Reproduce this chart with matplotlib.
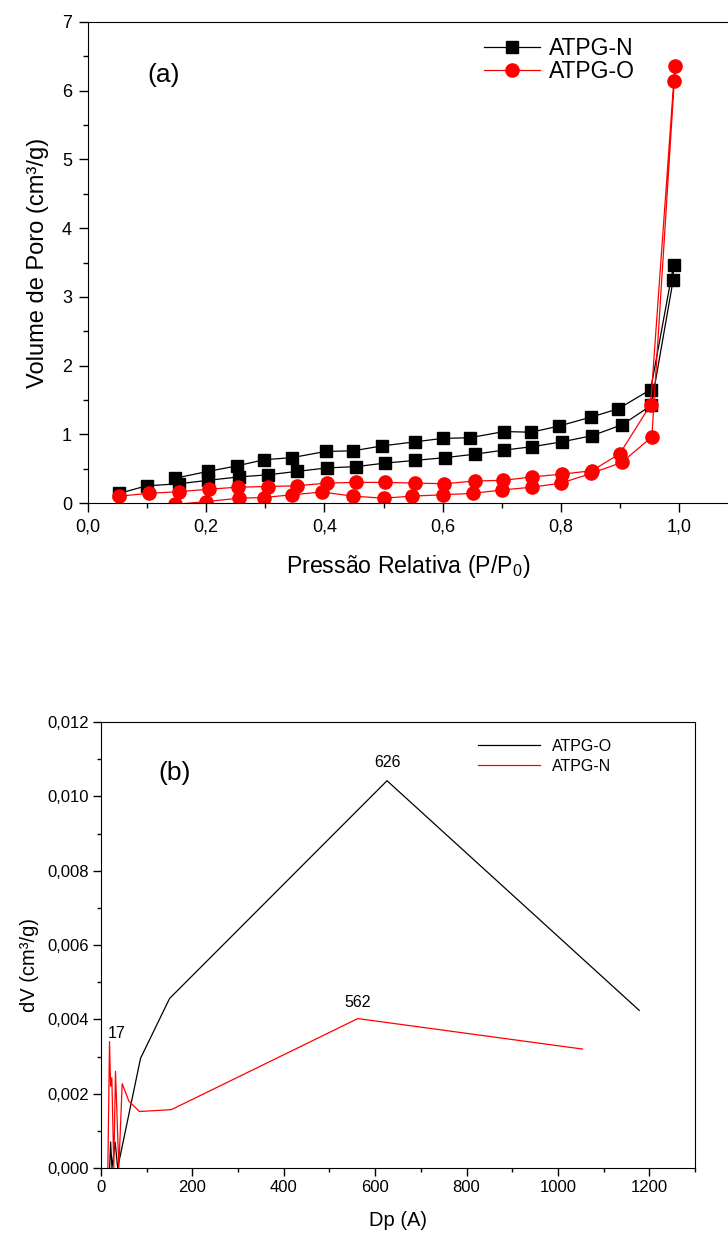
import numpy as np
import matplotlib
matplotlib.use('Agg')
import matplotlib.pyplot as plt
from matplotlib.ticker import MultipleLocator, FuncFormatter

plt.rcParams['font.family'] = ['Liberation Sans', 'DejaVu Sans']
plt.rcParams['mathtext.fontset'] = 'custom'
plt.rcParams['mathtext.rm'] = 'Liberation Sans'
plt.rcParams['mathtext.it'] = 'Liberation Sans:italic'

# (a) isotermas - ATPG-N (adsorcao / dessorcao)
pn_ads = [0.053, 0.099, 0.154, 0.203, 0.256, 0.304, 0.354, 0.404, 0.454, 0.502,
          0.553, 0.604, 0.654, 0.704, 0.752, 0.802, 0.853, 0.904, 0.953, 0.990]
vn_ads = [0.14, 0.25, 0.28, 0.33, 0.38, 0.41, 0.46, 0.51, 0.53, 0.58,
          0.62, 0.66, 0.71, 0.77, 0.82, 0.89, 0.98, 1.14, 1.42, 3.24]
pn_des = [0.991, 0.952, 0.897, 0.851, 0.797, 0.750, 0.704, 0.646, 0.600, 0.553,
          0.497, 0.449, 0.402, 0.345, 0.298, 0.252, 0.203, 0.147]
vn_des = [3.47, 1.65, 1.37, 1.25, 1.12, 1.03, 1.04, 0.95, 0.94, 0.89,
          0.83, 0.76, 0.75, 0.66, 0.63, 0.54, 0.46, 0.36]

# ATPG-O
po_ads = [0.053, 0.103, 0.154, 0.204, 0.253, 0.304, 0.353, 0.404, 0.453, 0.502,
          0.553, 0.603, 0.654, 0.703, 0.752, 0.802, 0.853, 0.900, 0.952, 0.993]
vo_ads = [0.10, 0.14, 0.165, 0.20, 0.23, 0.24, 0.25, 0.29, 0.30, 0.30,
          0.29, 0.28, 0.32, 0.33, 0.38, 0.42, 0.47, 0.72, 1.43, 6.36]
po_des = [0.992, 0.954, 0.903, 0.851, 0.801, 0.751, 0.701, 0.651, 0.601, 0.549,
          0.500, 0.448, 0.396, 0.346, 0.297, 0.256, 0.200, 0.147]
vo_des = [6.14, 0.96, 0.59, 0.43, 0.29, 0.23, 0.19, 0.14, 0.12, 0.10,
          0.07, 0.10, 0.16, 0.12, 0.08, 0.07, 0.02, -0.02]

# (b) distribuicao de poros
dp_o = [19, 21, 24, 31, 36.5, 86.5, 150, 626, 1178]
dv_o = [0, 0.0007, 0, 0.00069, 0, 0.00295, 0.00456, 0.01042, 0.00424]
dp_n = [15, 18.6, 21, 23.7, 28, 31.7, 39, 46.4, 61, 84, 154, 562, 1054]
dv_n = [0, 0.0034, 0.0022, 0.00243, 0, 0.0026, 0, 0.00227, 0.0018, 0.00152,
        0.00157, 0.00402, 0.00320]

W, H = 728, 1235
fig = plt.figure(figsize=(W/100, H/100), dpi=100)

def virg(fmt):
    return FuncFormatter(lambda v, p: (fmt % v).replace('.', ','))

# ---------- painel (a)
ax = fig.add_axes([88/W, 1-503/H, (728-88)/W, (503-22)/H])
x = pn_ads + pn_des
y = vn_ads + vn_des
ax.plot(x, y, color='black', lw=0.9, marker='s', ms=9, label='ATPG-N')
x = po_ads + po_des
y = vo_ads + vo_des
ax.plot(x, y, color='#ff0000', lw=0.9, marker='o', ms=9.5, label='ATPG-O')
ax.set_xlim(0, (728-88)/591)
ax.set_ylim(0, 7)
ax.spines['right'].set_visible(False)
ax.xaxis.set_major_locator(MultipleLocator(0.2))
ax.xaxis.set_minor_locator(MultipleLocator(0.1))
ax.yaxis.set_major_locator(MultipleLocator(1))
ax.yaxis.set_minor_locator(MultipleLocator(0.5))
ax.xaxis.set_major_formatter(virg('%.1f'))
ax.tick_params(which='major', direction='out', length=6.5, width=1, labelsize=13, pad=5)
ax.tick_params(which='minor', direction='out', length=3.5, width=1)
ax.tick_params(top=False, right=False, which='both')
ax.set_xlabel('Pressão Relativa (P/P$_0$)', fontsize=16.7, labelpad=12)
ax.set_ylabel('Volume de Poro (cm³/g)', fontsize=17, labelpad=9)
ax.text(0.093, 0.89, '(a)', transform=ax.transAxes, fontsize=19, va='center')
ax.legend(loc='upper left', bbox_to_anchor=(484/W, 1-37/H), bbox_transform=fig.transFigure,
          frameon=False, fontsize=16.5, handlelength=2.45, handletextpad=0.4,
          labelspacing=0.0, borderpad=0, borderaxespad=0)

# ---------- painel (b)
bx = fig.add_axes([101/W, 1-1168/H, (695-101)/W, (1168-722)/H])
bx.plot(dp_o, dv_o, color='black', lw=0.9, label='ATPG-O')
bx.plot(dp_n, dv_n, color='#ff0000', lw=0.9, label='ATPG-N')
bx.set_xlim(0, 1300)
bx.set_ylim(0, 0.012)
bx.xaxis.set_major_locator(MultipleLocator(200))
bx.xaxis.set_minor_locator(MultipleLocator(100))
bx.yaxis.set_major_locator(MultipleLocator(0.002))
bx.yaxis.set_minor_locator(MultipleLocator(0.001))
bx.yaxis.set_major_formatter(virg('%.3f'))
bx.tick_params(which='major', direction='out', length=5.5, width=1, labelsize=12)
bx.tick_params(which='minor', direction='out', length=3, width=1)
bx.set_xlabel('Dp (A)', fontsize=14.5, labelpad=11)
bx.set_ylabel('dV (cm³/g)', fontsize=14.5, labelpad=6)
bx.yaxis.label.set_y(0.455)
bx.text(0.096, 0.885, '(b)', transform=bx.transAxes, fontsize=19, va='center')
bx.text(626, 0.0109, '626', ha='center', va='center', fontsize=11.5)
bx.text(562, 0.00445, '562', ha='center', va='center', fontsize=11.5)
bx.text(35, 0.00362, '17', ha='center', va='center', fontsize=11.5)
bx.legend(loc='upper left', bbox_to_anchor=(478/W, 1-739/H), bbox_transform=fig.transFigure,
          frameon=False, fontsize=11.5, handlelength=3.9, handletextpad=0.75,
          labelspacing=0.3, borderpad=0, borderaxespad=0)

fig.savefig('out.png', dpi=100)
